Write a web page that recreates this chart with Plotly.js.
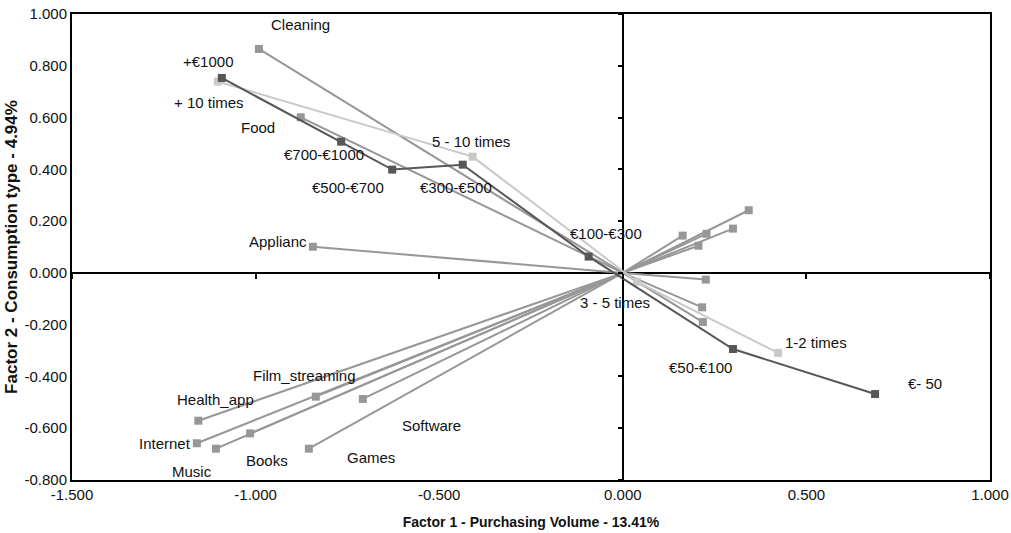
<!DOCTYPE html>
<html>
<head>
<meta charset="utf-8">
<script src="https://cdn.plot.ly/plotly-3.0.1.min.js"></script>
<style>html,body{margin:0;padding:0;background:#fff;}#chart{width:1011px;height:533px;}</style>
</head>
<body>
<div id="chart"></div>
<script>
// ---- Data ----
// Variables drawn as vectors from the origin (medium grey)
const vectorLabels = ["Cleaning","Food","Applianc","Health_app","Internet","Music","Books","Film_streaming","Software","Games","","","","","","","",""];
const vectorX = [-0.991,-0.877,-0.844,-1.156,-1.160,-1.108,-1.015,-0.836,-0.708,-0.855,0.343,0.300,0.228,0.163,0.206,0.226,0.216,0.218];
const vectorY = [0.865,0.601,0.101,-0.571,-0.658,-0.679,-0.620,-0.478,-0.487,-0.679,0.242,0.171,0.151,0.144,0.105,-0.026,-0.133,-0.190];

// Purchase frequency (light grey connected line)
const freqLabels = ["+ 10 times","5 - 10 times","3 - 5 times","1-2 times"];
const freqX = [-1.103,-0.409,0.038,0.423];
const freqY = [0.739,0.449,-0.034,-0.309];

// Spending bands (dark grey connected line)
const spendLabels = ["+€1000","€700-€1000","€500-€700","€300-€500","€100-€300","€50-€100","€- 50"];
const spendX = [-1.092,-0.767,-0.628,-0.436,-0.093,0.300,0.687];
const spendY = [0.753,0.507,0.399,0.418,0.063,-0.294,-0.468];

// Axis ticks
const xTickVals = [-1.5,-1.0,-0.5,0.0,0.5,1.0];
const xTickText = ["-1.500","-1.000","-0.500","0.000","0.500","1.000"];
const yTickVals = [-0.8,-0.6,-0.4,-0.2,0.0,0.2,0.4,0.6,0.8,1.0];
const yTickText = ["-0.800","-0.600","-0.400","-0.200","0.000","0.200","0.400","0.600","0.800","1.000"];

const xTitle = "Factor 1 - Purchasing Volume - 13.41%";
const yTitle = "Factor 2 - Consumption type - 4.94%";

// ---- Label placement (pixel offsets from each marker; styling only) ----
const vectorLabelShift = [[42,24],[-43,-10],[null,5],[17,21],[null,0],[-24,-23],[17,-27],[-11,21],[69,-27],[62,-9]];
const freqLabelShift = [[-9,-21],[-2,15],[-22,-21],[38,10]];
const spendLabelShift = [[-14,16],[-17,-13],[-44,-18],[-7,-23],[17,23],[-32,-18],[50,11]];

// ---- Colours ----
const cMid = "#979797", cLight = "#c9c9c9", cDark = "#575757";
const FONT = "Liberation Sans, Arial, Helvetica, sans-serif";

// Build vector line segments from the origin
const segX = [], segY = [];
for (let i = 0; i < vectorX.length; i++) { segX.push(0, vectorX[i], null); segY.push(0, vectorY[i], null); }

const traces = [
  {x: segX, y: segY, mode: "lines", line: {color: cMid, width: 2}, hoverinfo: "skip", showlegend: false, connectgaps: false},
  {x: vectorX, y: vectorY, mode: "markers", marker: {symbol: "square", size: 8, color: cMid}, showlegend: false, text: vectorLabels},
  {x: freqX, y: freqY, mode: "lines+markers", line: {color: cLight, width: 2}, marker: {symbol: "square", size: 8, color: cLight}, showlegend: false, text: freqLabels},
  {x: spendX, y: spendY, mode: "lines+markers", line: {color: cDark, width: 2}, marker: {symbol: "square", size: 8, color: cDark}, showlegend: false, text: spendLabels},
  {x: [], y: [], xaxis: "x2", yaxis: "y2", mode: "markers", showlegend: false, hoverinfo: "skip"}
];

const annotations = [];
function addLabels(labels, xs, ys, shifts) {
  labels.forEach((t, i) => {
    if (!t) return;
    const s = shifts[i];
    const a = {x: xs[i], y: ys[i], xref: "x", yref: "y", text: t, showarrow: false,
      font: {family: FONT, size: 15, color: "#111"}, yshift: s[1]};
    if (s[0] === null) { a.xanchor = "right"; a.xshift = -4; }
    else { a.xanchor = "center"; a.xshift = s[0]; }
    annotations.push(a);
  });
}
addLabels(vectorLabels, vectorX, vectorY, vectorLabelShift);
addLabels(freqLabels, freqX, freqY, freqLabelShift);
addLabels(spendLabels, spendX, spendY, spendLabelShift);

const layout = {
  width: 1011, height: 533,
  margin: {l: 72, r: 21, t: 14, b: 53},
  paper_bgcolor: "#fff", plot_bgcolor: "#fff",
  font: {family: FONT, size: 14, color: "#111"},
  showlegend: false,
  xaxis: {
    range: [-1.5, 1.0], tickvals: xTickVals, ticktext: xTickText, ticks: "",
    showgrid: false, zeroline: true, zerolinecolor: "#000", zerolinewidth: 2,
    showline: true, linecolor: "#000", linewidth: 2, mirror: true,
    tickfont: {family: FONT, size: 15, color: "#111"},
    title: {text: xTitle, font: {family: FONT, size: 14, color: "#111", weight: "bold"}, standoff: 15}
  },
  yaxis: {
    range: [-0.8, 1.0], tickvals: yTickVals, ticktext: yTickText, ticks: "",
    showgrid: false, zeroline: true, zerolinecolor: "#000", zerolinewidth: 2,
    showline: true, linecolor: "#000", linewidth: 2, mirror: true,
    tickfont: {family: FONT, size: 15, color: "#111"},
    title: {text: yTitle, font: {family: FONT, size: 17, color: "#111", weight: "bold"}, standoff: 3}
  },
  xaxis2: {overlaying: "x", matches: "x", anchor: "free", position: 0.8/1.8, side: "bottom",
    tickvals: xTickVals, ticks: "outside", ticklen: 5, tickwidth: 2, tickcolor: "#000",
    showticklabels: false, showline: false, showgrid: false, zeroline: false},
  yaxis2: {overlaying: "y", matches: "y", anchor: "free", position: 0.6, side: "left",
    tickvals: yTickVals, ticks: "outside", ticklen: 5, tickwidth: 2, tickcolor: "#000",
    showticklabels: false, showline: false, showgrid: false, zeroline: false},
  annotations: annotations
};

Plotly.newPlot("chart", traces, layout, {staticPlot: true, displayModeBar: false});
</script>
</body>
</html>
